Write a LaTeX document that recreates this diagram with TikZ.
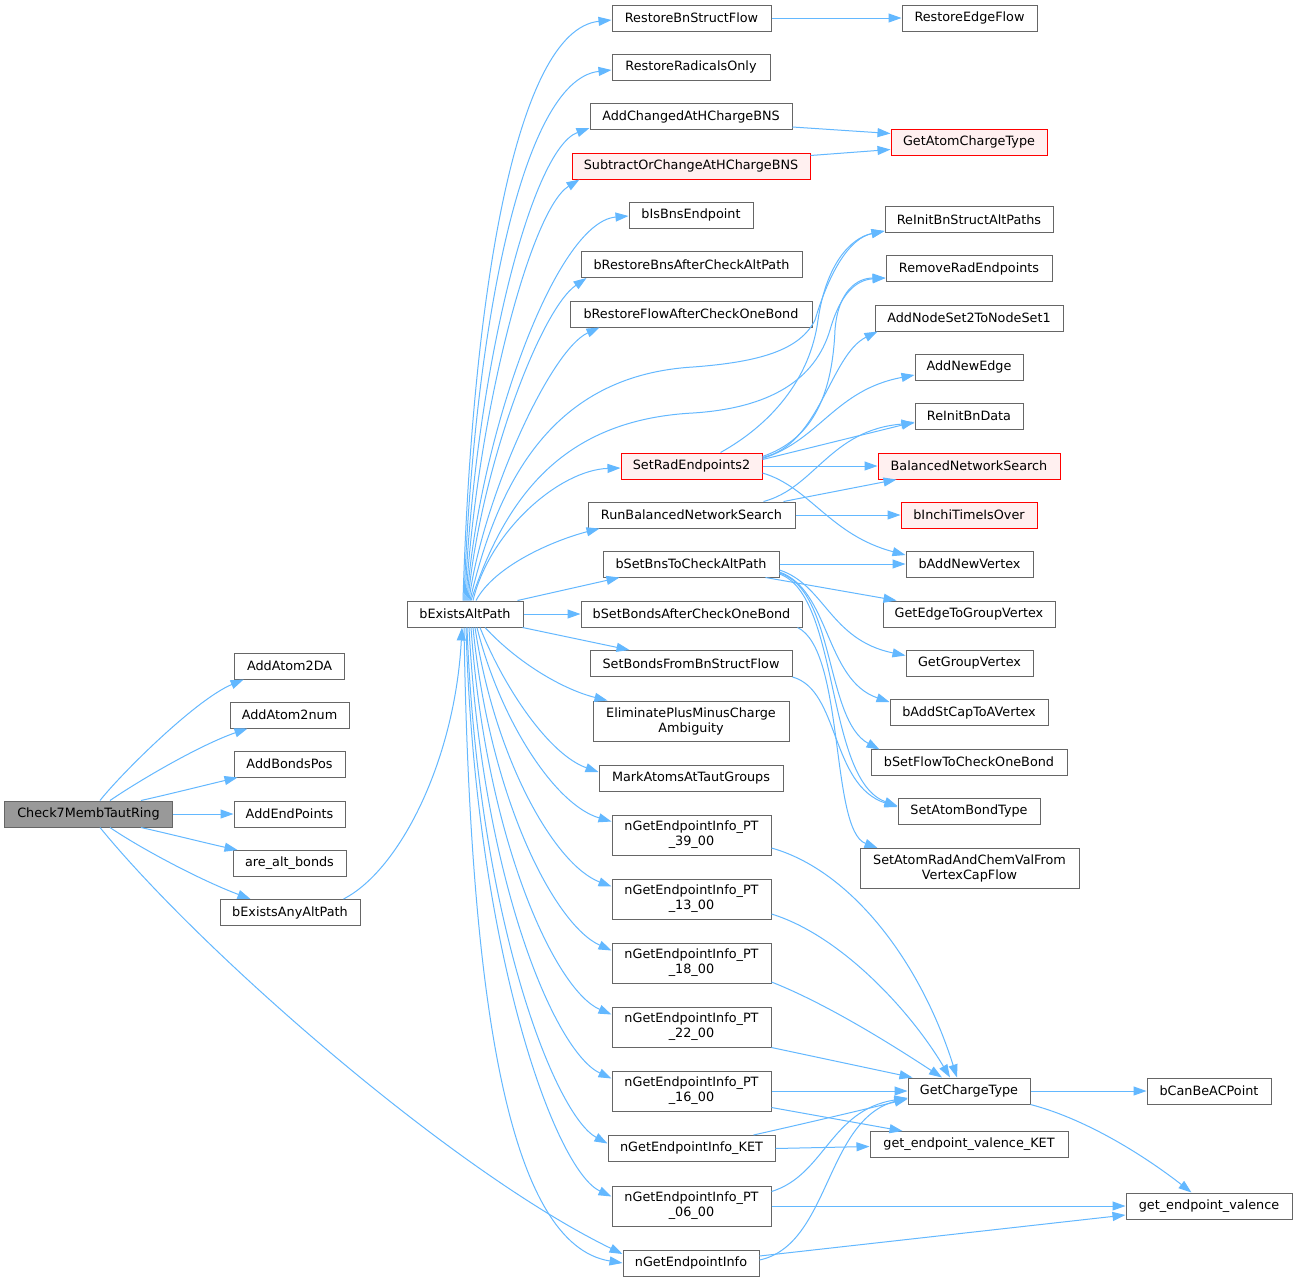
\documentclass[tikz,border=0pt]{standalone}
\usepackage{fontspec}
\setmainfont{DejaVu Sans}
\usetikzlibrary{arrows.meta}
\definecolor{edgec}{HTML}{63B8FF}
\definecolor{bordc}{HTML}{666666}
\definecolor{redb}{HTML}{FF0000}
\definecolor{redf}{HTML}{FFF0F0}
\definecolor{rootf}{HTML}{999999}
\begin{document}
\begin{tikzpicture}[x=1bp,y=-1bp,
  box/.style={draw=bordc, fill=white, line width=1bp, inner sep=0pt, minimum height=26bp,
    font=\fontsize{12.8bp}{15bp}\selectfont, align=center, text=black},
  box2/.style={box, minimum height=40bp},
  redbox/.style={box, draw=redb, fill=redf},
  rootbox/.style={box, fill=rootf},
  ce/.style={draw=edgec, line width=1bp, -{Triangle[length=13bp,width=9bp]}}]
\fill[white] (0,0) rectangle (1297,1281);
\useasboundingbox (0,0) rectangle (1297,1281);

% ---- nodes ----
\node[rootbox, minimum width=167bp] (c7) at (88.5,814) {Check7MembTautRing};
\node[box, minimum width=110bp] (aa2da) at (289.6,666) {AddAtom2DA};
\node[box, minimum width=119bp] (aa2n) at (289.5,715) {AddAtom2num};
\node[box, minimum width=111bp] (abp) at (289.5,764) {AddBondsPos};
\node[box, minimum width=111bp] (aep) at (289.5,814) {AddEndPoints};
\node[box, minimum width=113bp] (aab) at (289.5,863.5) {are\_alt\_bonds};
\node[box, minimum width=140bp] (beaap) at (290,912.5) {bExistsAnyAltPath};
\node[box, minimum width=116bp] (beap) at (465,614) {bExistsAltPath};

\node[box, minimum width=159bp] (rbsf) at (691.5,18) {RestoreBnStructFlow};
\node[box, minimum width=158bp] (rro) at (691,67) {RestoreRadicalsOnly};
\node[box, minimum width=202bp] (acah) at (691,116.5) {AddChangedAtHChargeBNS};
\node[redbox, minimum width=238bp] (soc) at (691,166) {SubtractOrChangeAtHChargeBNS};
\node[box, minimum width=124bp] (bisbe) at (691,215) {bIsBnsEndpoint};
\node[box, minimum width=221bp] (brbns) at (691.5,264.5) {bRestoreBnsAfterCheckAltPath};
\node[box, minimum width=242bp] (brfoc) at (691,314) {bRestoreFlowAfterCheckOneBond};
\node[redbox, minimum width=141bp] (sre2) at (691.5,466) {SetRadEndpoints2};
\node[box, minimum width=207bp] (rbns) at (691.5,515) {RunBalancedNetworkSearch};
\node[box, minimum width=176bp] (bsbns) at (691,564) {bSetBnsToCheckAltPath};
\node[box, minimum width=221bp] (bsbaocb) at (691.5,614) {bSetBondsAfterCheckOneBond};
\node[box, minimum width=202bp] (sbfbsf) at (691,663.5) {SetBondsFromBnStructFlow};
\node[box2, minimum width=196bp] (epmca) at (691,721) {EliminatePlusMinusCharge\\Ambiguity};
\node[box, minimum width=184bp] (matg) at (691,778) {MarkAtomsAtTautGroups};
\node[box2, minimum width=159bp] (pt39) at (691.5,835) {nGetEndpointInfo\_PT\\\_39\_00};
\node[box2, minimum width=159bp] (pt13) at (691.5,899) {nGetEndpointInfo\_PT\\\_13\_00};
\node[box2, minimum width=159bp] (pt18) at (691.5,963) {nGetEndpointInfo\_PT\\\_18\_00};
\node[box2, minimum width=159bp] (pt22) at (691.5,1027) {nGetEndpointInfo\_PT\\\_22\_00};
\node[box2, minimum width=159bp] (pt16) at (691.5,1091) {nGetEndpointInfo\_PT\\\_16\_00};
\node[box, minimum width=167bp] (ket) at (691.5,1148.5) {nGetEndpointInfo\_KET};
\node[box2, minimum width=159bp] (pt06) at (691.5,1206) {nGetEndpointInfo\_PT\\\_06\_00};
\node[box, minimum width=136bp] (ngei) at (691,1263) {nGetEndpointInfo};

\node[box, minimum width=135bp] (ref) at (969.5,18) {RestoreEdgeFlow};
\node[redbox, minimum width=156bp] (gact) at (969,142) {GetAtomChargeType};
\node[box, minimum width=168bp] (ribsap) at (969,219.5) {ReInitBnStructAltPaths};
\node[box, minimum width=166bp] (rre) at (969,268.5) {RemoveRadEndpoints};
\node[box, minimum width=188bp] (ans2) at (969,318) {AddNodeSet2ToNodeSet1};
\node[box, minimum width=108bp] (ane) at (969,367) {AddNewEdge};
\node[box, minimum width=108bp] (ribd) at (969,416) {ReInitBnData};
\node[redbox, minimum width=182bp] (bns) at (969,466) {BalancedNetworkSearch};
\node[redbox, minimum width=136bp] (bito) at (969,515) {bInchiTimeIsOver};
\node[box, minimum width=127bp] (banv) at (969.5,564) {bAddNewVertex};
\node[box, minimum width=172bp] (egv) at (969,614) {GetEdgeToGroupVertex};
\node[box, minimum width=127bp] (ggv) at (969.5,663.5) {GetGroupVertex};
\node[box, minimum width=158bp] (bascv) at (969,712.5) {bAddStCapToAVertex};
\node[box, minimum width=196bp] (bsfcob) at (969,762) {bSetFlowToCheckOneBond};
\node[box, minimum width=142bp] (sabt) at (969,811) {SetAtomBondType};
\node[box2, minimum width=219bp] (sarcv) at (969.5,868.5) {SetAtomRadAndChemValFrom\\VertexCapFlow};
\node[box, minimum width=122bp] (gct) at (969,1091) {GetChargeType};
\node[box, minimum width=198bp] (gevk) at (969,1144.5) {get\_endpoint\_valence\_KET};

\node[box, minimum width=124bp] (bcbacp) at (1209,1091) {bCanBeACPoint};
\node[box, minimum width=166bp] (gev) at (1209,1206) {get\_endpoint\_valence};

% ---- edges from Check7MembTautRing ----
\draw[ce] ([shift={(11.5,0)}]c7.north) .. controls (120,775) and (195,700) .. ([shift={(9.5,0)}]aa2da.south west);
\draw[ce] ([shift={(21.5,0)}]c7.north) .. controls (140,780) and (200,745) .. ([shift={(18,0)}]aa2n.south west);
\draw[ce] ([shift={(52.5,0)}]c7.north) .. controls (170,794) and (210,784) .. ([shift={(4,0)}]abp.south west);
\draw[ce] (c7.east) -- (aep.west);
\draw[ce] ([shift={(52.5,0)}]c7.south) .. controls (170,834) and (210,844) .. ([shift={(5,0)}]aab.north west);
\draw[ce] ([shift={(21.5,0)}]c7.south) .. controls (140,848) and (200,880) .. ([shift={(31,0)}]beaap.north west);
\draw[ce] ([shift={(11.5,0)}]c7.south) .. controls (200,950) and (450,1170) .. ([shift={(0,-9)}]ngei.west);

\draw[ce] ([shift={(-17,0)}]beaap.north east) .. controls (400,870) and (455,760) .. ([shift={(-3,0)}]beap.south);

% ---- upper fan from bExistsAltPath ----
\draw[ce] ([shift={(-2,0)}]beap.north) .. controls (472,300) and (515,30) .. ([shift={(0,2)}]rbsf.west);
\draw[ce] ([shift={(-1,0)}]beap.north) .. controls (473,340) and (520,80) .. ([shift={(0,3)}]rro.west);
\draw[ce] (beap.north) .. controls (474,380) and (530,150) .. ([shift={(0,-2)}]acah.south west);
\draw[ce] ([shift={(1,0)}]beap.north) .. controls (476,420) and (530,210) .. ([shift={(8,0)}]soc.south west);
\draw[ce] ([shift={(2,0)}]beap.north) .. controls (478,440) and (555,222) .. ([shift={(0,1)}]bisbe.west);
\draw[ce] ([shift={(3,0)}]beap.north) .. controls (480,470) and (540,310) .. ([shift={(6,0)}]brbns.south west);
\draw[ce] ([shift={(4,0)}]beap.north) .. controls (482,500) and (550,350) .. ([shift={(30,0)}]brfoc.south west);
\draw[ce] ([shift={(5,0)}]beap.north) .. controls (500,470) and (560,375) .. (693,367)
   .. controls (760,362) and (800,350) .. (815,320) .. controls (830,270) and (850,238) .. ([shift={(0,-2)}]ribsap.south west);
\draw[ce] ([shift={(6,0)}]beap.north) .. controls (505,500) and (560,420) .. (693,413)
   .. controls (770,408) and (815,380) .. (830,330) .. controls (840,295) and (855,280) .. ([shift={(0,-4)}]rre.south west);
\draw[ce] ([shift={(8,0)}]beap.north) .. controls (490,530) and (560,470) .. ([shift={(0,2)}]sre2.west);
\draw[ce] ([shift={(11,0)}]beap.north) .. controls (495,565) and (555,540) .. ([shift={(12,0)}]rbns.south west);
\draw[ce] ([shift={(-6,0)}]beap.north east) -- ([shift={(17,0)}]bsbns.south west);
\draw[ce] (beap.east) -- (bsbaocb.west);
\draw[ce] ([shift={(-1,0)}]beap.south east) -- ([shift={(40,0)}]sbfbsf.north west);
\draw[ce] ([shift={(20,0)}]beap.south) .. controls (520,665) and (565,690) .. ([shift={(15,0)}]epmca.north west);

% ---- lower fan from bExistsAltPath ----
\draw[ce] ([shift={(15,0)}]beap.south) .. controls (505,690) and (550,755) .. ([shift={(0,-6)}]matg.west);
\draw[ce] ([shift={(12,0)}]beap.south) .. controls (500,720) and (555,805) .. ([shift={(0,7)}]pt39.north west);
\draw[ce] ([shift={(10,0)}]beap.south) .. controls (495,760) and (555,865) .. ([shift={(0,8)}]pt13.north west);
\draw[ce] ([shift={(8,0)}]beap.south) .. controls (490,800) and (555,925) .. ([shift={(0,8)}]pt18.north west);
\draw[ce] ([shift={(6,0)}]beap.south) .. controls (486,840) and (555,990) .. ([shift={(0,8)}]pt22.north west);
\draw[ce] ([shift={(4,0)}]beap.south) .. controls (482,880) and (555,1052) .. ([shift={(0,8)}]pt16.north west);
\draw[ce] ([shift={(2,0)}]beap.south) .. controls (478,920) and (555,1115) .. ([shift={(0,-5)}]ket.west);
\draw[ce] ([shift={(1,0)}]beap.south) .. controls (475,950) and (555,1170) .. ([shift={(0,11)}]pt06.north west);
\draw[ce] ([shift={(-1,0)}]beap.south) .. controls (470,1010) and (510,1245) .. (ngei.west);

% ---- right side ----
\draw[ce] (rbsf.east) -- (ref.west);
\draw[ce] ([shift={(0,-3)}]acah.south east) -- ([shift={(0,5)}]gact.north west);
\draw[ce] ([shift={(0,3)}]soc.north east) -- ([shift={(0,-6)}]gact.south west);

\draw[ce] ([shift={(29,0)}]sre2.north) .. controls (770,425) and (810,380) .. (818,320)
   .. controls (826,265) and (850,238) .. ([shift={(0,-2)}]ribsap.south west);
\draw[ce] ([shift={(0,4)}]sre2.north east) .. controls (810,440) and (832,400) .. (835,330)
   .. controls (838,290) and (858,278) .. ([shift={(0,-4)}]rre.south west);
\draw[ce] ([shift={(0,5)}]sre2.north east) .. controls (820,445) and (830,355) .. ([shift={(3,0)}]ans2.south west);
\draw[ce] ([shift={(0,6)}]sre2.north east) .. controls (820,440) and (835,390) .. ([shift={(0,8)}]ane.west);
\draw[ce] ([shift={(0,7)}]sre2.north east) -- ([shift={(0,6)}]ribd.west);
\draw[ce] (sre2.east) -- (bns.west);
\draw[ce] ([shift={(0,7)}]sre2.east) .. controls (810,487) and (830,535) .. ([shift={(0,-9)}]banv.west);

\draw[ce] ([shift={(72,0)}]rbns.north) .. controls (815,488) and (830,430) .. ([shift={(0,7)}]ribd.west);
\draw[ce] ([shift={(92,0)}]rbns.north) -- ([shift={(19,0)}]bns.south west);
\draw[ce] (rbns.east) -- (bito.west);

\draw[ce] (bsbns.east) -- (banv.west);
\draw[ce] ([shift={(-14,0)}]bsbns.south east) -- ([shift={(14,0)}]egv.north west);
\draw[ce] ([shift={(0,6)}]bsbns.east) .. controls (825,585) and (830,640) .. ([shift={(0,-8)}]ggv.west);
\draw[ce] ([shift={(0,8)}]bsbns.east) .. controls (830,590) and (825,680) .. ([shift={(0,3)}]bascv.north west);
\draw[ce] ([shift={(0,9)}]bsbns.east) .. controls (835,590) and (825,720) .. ([shift={(9,1)}]bsfcob.north west);
\draw[ce] ([shift={(0,10)}]bsbns.east) .. controls (840,595) and (825,780) .. ([shift={(0,-5)}]sabt.west);
\draw[ce] (sbfbsf.south east) .. controls (840,690) and (830,785) .. ([shift={(0,-4)}]sabt.west);
\draw[ce] ([shift={(-5,0)}]bsbaocb.south east) .. controls (845,650) and (830,830) .. ([shift={(18,0)}]sarcv.north west);

\draw[ce] ([shift={(0,13)}]pt39.east) .. controls (850,870) and (920,960) .. ([shift={(-12,0)}]gct.north);
\draw[ce] ([shift={(0,15)}]pt13.east) .. controls (840,935) and (910,1010) .. ([shift={(-19,0)}]gct.north);
\draw[ce] ([shift={(0,19)}]pt18.east) .. controls (830,1005) and (900,1050) .. ([shift={(-27,0)}]gct.north);
\draw[ce] (pt22.south east) -- ([shift={(5,0)}]gct.north west);
\draw[ce] (pt16.east) -- (gct.west);
\draw[ce] ([shift={(62,0)}]ket.north) .. controls (820,1120) and (870,1108) .. ([shift={(0,8)}]gct.west);
\draw[ce] ([shift={(0,6)}]pt06.north east) .. controls (825,1175) and (830,1110) .. ([shift={(0,7)}]gct.west);
\draw[ce] ([shift={(0,-3)}]ngei.east) .. controls (830,1245) and (825,1120) .. ([shift={(0,7)}]gct.west);
\draw[ce] ([shift={(0,-4)}]pt16.south east) -- ([shift={(33,0)}]gevk.north west);
\draw[ce] (ket.east) -- ([shift={(0,2)}]gevk.west);
\draw[ce] (pt06.east) -- (gev.west);
\draw[ce] ([shift={(0,-7)}]ngei.east) -- ([shift={(0,9)}]gev.west);
\draw[ce] (gct.east) -- (bcbacp.west);
\draw[ce] (gct.south east) .. controls (1090,1120) and (1150,1160) .. ([shift={(66,0)}]gev.north west);
\end{tikzpicture}
\end{document}
